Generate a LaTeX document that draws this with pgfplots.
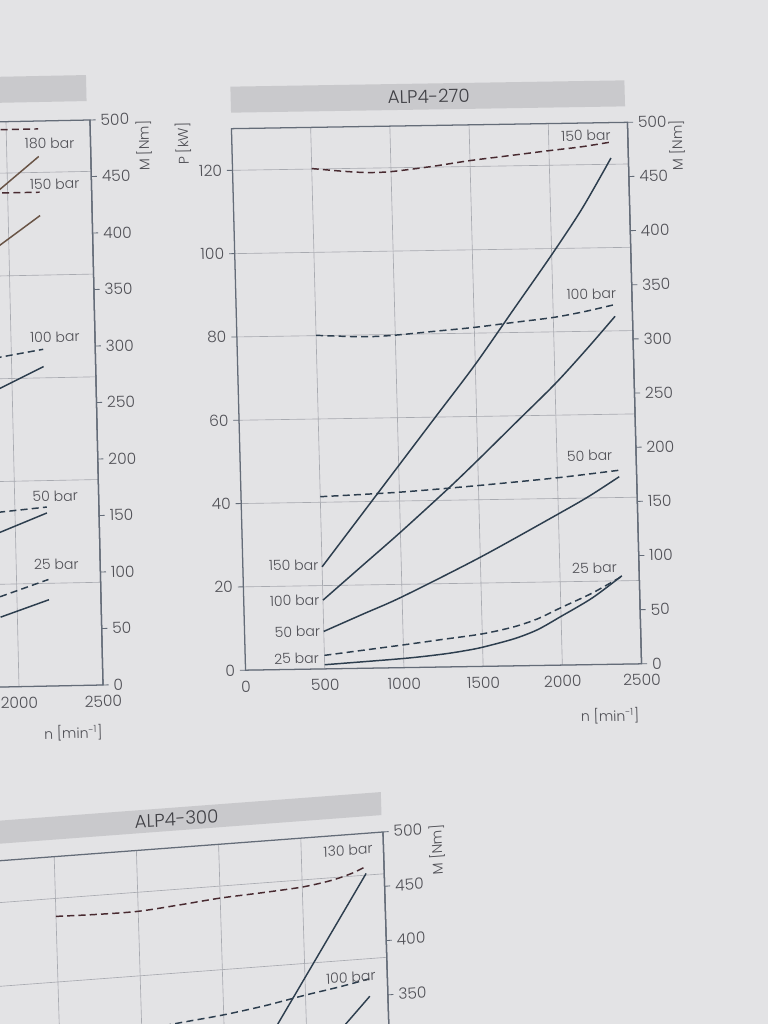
\documentclass[border=0pt]{standalone}
\usepackage{fontspec}
\setmainfont{Poppins}[UprightFont={Poppins Light}]
\usepackage{pgfplots}
\pgfplotsset{compat=1.18}

\definecolor{pagebg}{RGB}{227,227,229}
\definecolor{barbg}{RGB}{201,201,204}
\definecolor{gridc}{RGB}{168,170,176}
\definecolor{framec}{RGB}{100,108,120}
\definecolor{txt}{RGB}{80,80,86}
\definecolor{curve}{RGB}{45,62,78}
\definecolor{curvered}{RGB}{72,42,48}
\definecolor{curvebrown}{RGB}{105,84,70}

\tikzset{
  pline/.style={curve, line width=1.05pt},
  mline/.style={curve, line width=1.05pt, dash pattern=on 5pt off 3pt},
  lab/.style={font=\fontsize{10}{12}\selectfont, text=txt, inner sep=1pt},
}
\pgfplotsset{
  base/.style={
    scale only axis, anchor=south west, clip=false,
    xmin=0, xmax=2500,
    axis line style={framec, line width=0.9pt},
    tick style={framec, line width=0.6pt},
    tick align=outside, major tick length=0.14cm,
    ticklabel style={font=\fontsize{11}{13}\selectfont, text=txt},
    /pgf/number format/assume math mode=true,
    /pgf/number format/1000 sep={},
    scaled ticks=false,
  },
  powerax/.style={base,
    xtick={0,500,...,2500}, xtick pos=bottom, xtick style={draw=none},
    ytick pos=left, ymin=0,
    grid=major, grid style={gridc, line width=0.45pt},
  },
  torqueax/.style={base,
    axis x line=none, axis y line*=right,
    ymin=0, ymax=500, ytick={0,50,...,500},
  },
}

\begin{document}
\begin{tikzpicture}
\useasboundingbox (0,0) rectangle (19.2,25.6);
\fill[pagebg] (0,0) rectangle (19.2,25.6);
\clip (0,0) rectangle (19.2,25.6);

% ---------- left chart (only its right part is on the page)
\begin{scope}[transform canvas={cm={1,0.02,-0.023,1,(0.35736,-0.04825)}}]
\begin{axis}[powerax, at={(-8.0875cm,8.475cm)}, width=10.5cm, height=14.125cm,
    ymax=110, ytick={0,20,...,100}]
\fill[barbg] ([yshift=0.475cm]rel axis cs:0,1) rectangle ([xshift=-0.075cm,yshift=1.125cm]rel axis cs:1,1);
\addplot[pline, curvebrown] coordinates {(1900,95.4) (2190,103.1)};
\addplot[pline, curvebrown] coordinates {(1900,84.9) (2190,91.6)};
\addplot[pline] coordinates {(1900,57.7) (2190,62.2)};
\addplot[pline] coordinates {(1900,30.0) (2190,33.7)};
\addplot[pline] coordinates {(1900,13.6) (2190,16.8)};
\node[lab, anchor=north east] at ([yshift=-0.95cm]rel axis cs:1,0) {n [min\textsuperscript{-1}]};
\end{axis}
\begin{axis}[torqueax, at={(-8.0875cm,8.475cm)}, width=10.5cm, height=14.125cm]
\addplot[mline, curvered] coordinates {(1900,493) (2190,493)};
\addplot[mline, curvered] coordinates {(1900,437) (2190,437)};
\addplot[mline] coordinates {(1900,291) (2190,298)};
\addplot[mline] coordinates {(1900,154.6) (2190,158.4)};
\addplot[mline] coordinates {(1900,79.9) (2190,94.3)};
\node[lab] at (axis cs:2256,480) {180 bar};
\node[lab] at (axis cs:2281,444) {150 bar};
\node[lab] at (axis cs:2261,308.7) {100 bar};
\node[lab] at (axis cs:2241,168) {50 bar};
\node[lab] at (axis cs:2239,107.6) {25 bar};
\node[lab, rotate=90] at ([xshift=1.33cm,yshift=-0.675cm]rel axis cs:1,1) {M [Nm]};
\end{axis}
\end{scope}

% ---------- ALP4-270
\begin{scope}[transform canvas={cm={1,0.016,-0.026,1,(0.40804,-0.1746)}}]
\begin{axis}[powerax, at={(5.9625cm,8.925cm)}, width=9.9cm, height=13.5375cm,
    ymax=130, ytick={0,20,...,120}]
\fill[barbg] ([yshift=0.4cm]rel axis cs:0,1) rectangle ([xshift=-0.05cm,yshift=1.05cm]rel axis cs:1,1);
\node[font=\fontsize{13}{15}\selectfont, text=txt!80!black] at ([yshift=0.725cm]rel axis cs:0.5,1) {ALP4-270};
% power, 150 / 100 / 50 / 25 bar
\addplot[pline, smooth] coordinates {(500,24.5) (750,36.5) (1000,48.5) (1250,60.5) (1500,72.5) (1750,85.5) (2000,98.5) (2200,109.5) (2390,121.5)};
\addplot[pline, smooth] coordinates {(500,16.5) (750,24.5) (1000,32.5) (1300,42.5) (1500,49.5) (1750,58.5) (2000,67.5) (2200,75.5) (2390,83.5)};
\addplot[pline, smooth] coordinates {(500,9) (750,13) (1000,17) (1500,26.2) (2000,36.3) (2200,40.5) (2390,45)};
\addplot[pline, smooth] coordinates {(500,1) (1000,2.2) (1250,3.1) (1400,3.9) (1500,4.6) (1700,6.5) (1850,8.6) (2000,11.7) (2200,16) (2390,21.2)};
\node[lab, anchor=east] at ([xshift=-0.05cm]axis cs:500,25) {150 bar};
\node[lab, anchor=east] at ([xshift=-0.05cm]axis cs:500,16.5) {100 bar};
\node[lab, anchor=east] at ([xshift=-0.05cm]axis cs:500,9) {50 bar};
\node[lab, anchor=east] at ([xshift=-0.1cm]axis cs:500,2.6) {25 bar};
\node[lab, rotate=90] at ([xshift=-1.22cm,yshift=-0.36cm]rel axis cs:0,1) {P [kW]};
\node[lab, anchor=north east] at ([xshift=-0.05cm,yshift=-1.05cm]rel axis cs:1,0) {n [min\textsuperscript{-1}]};
\end{axis}
\begin{axis}[torqueax, at={(5.9625cm,8.925cm)}, width=9.9cm, height=13.5375cm]
% torque, 150 / 100 / 50 / 25 bar
\addplot[mline, curvered, smooth] coordinates {(500,462) (700,459) (850,457.5) (1000,458) (1250,462) (1500,467) (1750,471) (2000,475) (2200,478) (2390,482)};
\addplot[mline, smooth] coordinates {(500,308) (700,306.5) (850,306) (1000,307) (1250,310) (1500,313) (1750,317) (2000,321) (2200,326) (2390,332)};
\addplot[mline, smooth] coordinates {(500,159) (1000,162) (1500,167) (2000,173) (2390,179)};
\addplot[mline, smooth] coordinates {(500,12.5) (1000,21) (1250,25.5) (1500,30) (1700,36) (1850,43) (2000,53) (2200,66) (2390,81)};
\node[lab, anchor=south east] at ([xshift=0.05cm]axis cs:2390,482) {150 bar};
\node[lab, anchor=south east] at ([xshift=0.08cm,yshift=0.1cm]axis cs:2390,332) {100 bar};
\node[lab, anchor=south east] at ([xshift=-0.12cm,yshift=0.2cm]axis cs:2390,179) {50 bar};
\node[lab, anchor=south east] at ([xshift=-0.08cm,yshift=0.05cm]axis cs:2390,81) {25 bar};
\node[lab, rotate=90] at ([xshift=1.22cm,yshift=-0.6cm]rel axis cs:1,1) {M [Nm]};
\end{axis}
\end{scope}

% ---------- ALP4-300 (only its top part is on the page)
\begin{scope}[transform canvas={cm={1,0.075,-0.03,1,(0.144,-0.718125)}}]
\begin{axis}[powerax, at={(-0.7cm,-8.775cm)}, width=10.275cm, height=13.575cm,
    ymax=130, ytick={0,20,...,120}]
\fill[barbg] ([yshift=0.425cm]rel axis cs:0,1) rectangle ([xshift=-0.025cm,yshift=1.0cm]rel axis cs:1,1);
\node[font=\fontsize{13}{15}\selectfont, text=txt!80!black] at ([yshift=0.71cm]rel axis cs:0.5,1) {ALP4-300};
\addplot[pline] coordinates {(1800,84.4) (2000,96.6) (2200,108.8) (2390,120.4)};
\addplot[pline] coordinates {(2200,83.2) (2390,91.0)};
\end{axis}
\begin{axis}[torqueax, at={(-0.7cm,-8.775cm)}, width=10.275cm, height=13.575cm]
\addplot[mline, curvered, smooth] coordinates {(500,445) (750,444) (1000,444) (1250,447) (1500,450.5) (1750,452.5) (2000,455) (2175,459) (2300,464) (2390,469.5)};
\addplot[mline, smooth] coordinates {(1000,335) (1250,339) (1500,343) (1750,348.5) (2000,355.5) (2200,360.5) (2390,366)};
\node[lab, anchor=south east] at ([xshift=0.22cm,yshift=0.27cm]axis cs:2390,469.5) {130 bar};
\node[lab, anchor=south east] at ([xshift=0.2cm,yshift=-0.1cm]axis cs:2390,366) {100 bar};
\node[lab, rotate=90] at ([xshift=1.33cm,yshift=-0.55cm]rel axis cs:1,1) {M [Nm]};
\end{axis}
\end{scope}
\end{tikzpicture}
\end{document}
